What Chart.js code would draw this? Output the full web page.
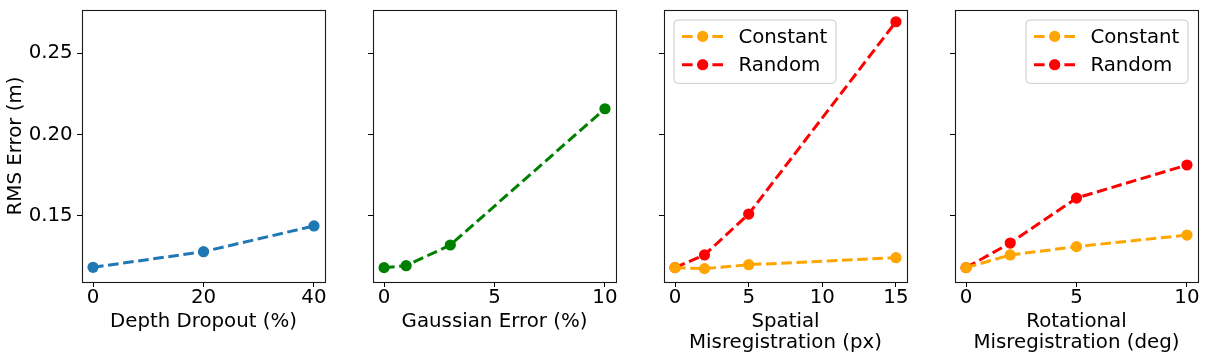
<!DOCTYPE html>
<html>
<head>
<meta charset="utf-8">
<script src="https://cdn.jsdelivr.net/npm/chart.js@4/dist/chart.umd.min.js"></script>
<style>
html, body { margin: 0; padding: 0; background: #ffffff; overflow: hidden; width: 1208px; height: 360px; }
canvas { position: absolute; top: 0; }
</style>
</head>
<body>
<canvas id="c1" width="355" height="360"></canvas>
<canvas id="c2" width="355" height="360"></canvas>
<canvas id="c3" width="355" height="360"></canvas>
<canvas id="c4" width="355" height="360"></canvas>
<script>
// ---- data ----
const yLabel = 'RMS Error (m)';
const yTicks = [0.15, 0.20, 0.25];
const yRange = [0.1095, 0.2764];

const depthX = [0, 20, 40];
const depthY = [0.1185, 0.1281, 0.1439];
const depthTicks = [0, 20, 40];
const depthRange = [-2, 42];
const depthTitle = 'Depth Dropout (%)';

const gaussX = [0, 1, 3, 10];
const gaussY = [0.1183, 0.1195, 0.1322, 0.2158];
const gaussTicks = [0, 5, 10];
const gaussRange = [-0.5, 10.5];
const gaussTitle = 'Gaussian Error (%)';

const spatialX = [0, 2, 5, 15];
const spatialConstant = [0.1183, 0.1177, 0.1201, 0.1244];
const spatialRandom = [0.1183, 0.1261, 0.1512, 0.2692];
const spatialTicks = [0, 5, 10, 15];
const spatialRange = [-0.75, 15.75];
const spatialTitle = ['Spatial', 'Misregistration (px)'];

const rotX = [0, 2, 5, 10];
const rotConstant = [0.1183, 0.1261, 0.1312, 0.1383];
const rotRandom = [0.1183, 0.1334, 0.1610, 0.1813];
const rotTicks = [0, 5, 10];
const rotRange = [-0.5, 10.5];
const rotTitle = ['Rotational', 'Misregistration (deg)'];

const seriesNames = ['Constant', 'Random'];

// ---- style ----
const FONT = 'DejaVu Sans';
const FS = 19.8;
Chart.defaults.font.family = FONT;
Chart.defaults.font.size = FS;
Chart.defaults.color = '#000000';

const COL = { blue: '#1f77b4', green: '#008000', orange: '#ffa500', red: '#ff0000' };

const plotLefts = [82, 373, 664, 955];
const plotW = 243;
const yAxisW = 82;
const plotTop = 10;

function pts(xs, ys) { return xs.map((x, i) => ({ x: x, y: ys[i] })); }

function ds(label, xs, ys, color) {
  return {
    label: label,
    data: pts(xs, ys),
    borderColor: color,
    backgroundColor: color,
    borderWidth: 3,
    borderDash: [10.6, 4.6],
    pointRadius: 5.6,
    pointHoverRadius: 5.6,
    pointBorderWidth: 0,
    pointBackgroundColor: color,
    tension: 0,
    fill: false
  };
}

const framePlugin = {
  id: 'frame',
  afterDatasetsDraw(chart) {
    const ctx = chart.ctx, a = chart.chartArea;
    ctx.save();
    ctx.strokeStyle = '#1a1a1a';
    ctx.lineWidth = 1.1;
    ctx.strokeRect(Math.round(a.left) + 0.5, Math.round(a.top) + 0.5,
                   Math.round(a.right - a.left), Math.round(a.bottom - a.top));
    ctx.restore();
  }
};

const legendPlugin = {
  id: 'mplLegend',
  afterDraw(chart, args, opts) {
    if (!opts || !opts.show) return;
    const ctx = chart.ctx, a = chart.chartArea;
    const w = 162, h = 63.4, r = 4;
    const x0 = opts.align === 'right' ? a.right - 10 - w : a.left + 10;
    const y0 = a.top + 10;
    ctx.save();
    ctx.beginPath();
    ctx.moveTo(x0 + r, y0);
    ctx.lineTo(x0 + w - r, y0);
    ctx.quadraticCurveTo(x0 + w, y0, x0 + w, y0 + r);
    ctx.lineTo(x0 + w, y0 + h - r);
    ctx.quadraticCurveTo(x0 + w, y0 + h, x0 + w - r, y0 + h);
    ctx.lineTo(x0 + r, y0 + h);
    ctx.quadraticCurveTo(x0, y0 + h, x0, y0 + h - r);
    ctx.lineTo(x0, y0 + r);
    ctx.quadraticCurveTo(x0, y0, x0 + r, y0);
    ctx.closePath();
    ctx.fillStyle = 'rgba(255,255,255,0.8)';
    ctx.fill();
    ctx.strokeStyle = '#cccccc';
    ctx.lineWidth = 1;
    ctx.stroke();
    chart.data.datasets.forEach((d, i) => {
      const cy = y0 + 16.4 + i * 28.3;
      ctx.setLineDash(d.borderDash);
      ctx.strokeStyle = d.borderColor;
      ctx.lineWidth = d.borderWidth;
      ctx.beginPath();
      ctx.moveTo(x0 + 8, cy);
      ctx.lineTo(x0 + 49, cy);
      ctx.stroke();
      ctx.setLineDash([]);
      ctx.fillStyle = d.borderColor;
      ctx.beginPath();
      ctx.arc(x0 + 28.7, cy, d.pointRadius, 0, Math.PI * 2);
      ctx.fill();
      ctx.fillStyle = '#000000';
      ctx.font = FS + 'px "' + FONT + '"';
      ctx.textAlign = 'left';
      ctx.textBaseline = 'middle';
      ctx.fillText(d.label, x0 + 64.4, cy + 1);
    });
    ctx.restore();
  }
};

function makeChart(idx, datasets, xTicks, xRange, xTitle, showY, legend) {
  const canvas = document.getElementById('c' + (idx + 1));
  canvas.style.left = (plotLefts[idx] - yAxisW) + 'px';
  const multi = Array.isArray(xTitle);
  return new Chart(canvas, {
    type: 'line',
    data: { datasets: datasets },
    plugins: [framePlugin, legendPlugin],
    options: {
      responsive: false,
      animation: false,
      events: [],
      layout: { padding: { left: 0, top: plotTop, right: 355 - yAxisW - plotW, bottom: 0 } },
      plugins: {
        legend: { display: false },
        tooltip: { enabled: false },
        mplLegend: legend
      },
      scales: {
        x: {
          type: 'linear',
          min: xRange[0],
          max: xRange[1],
          afterBuildTicks: s => { s.ticks = xTicks.map(v => ({ value: v })); },
          afterFit: s => { s.height = 78; s.paddingLeft = 0; s.paddingRight = 0; },
          grid: { drawOnChartArea: false, drawTicks: true, tickLength: 5, tickColor: '#000000', tickWidth: 1 },
          border: { display: false },
          ticks: {
            padding: 0,
            maxRotation: 0,
            autoSkip: false,
            font: { size: FS, lineHeight: 1.1 },
            callback: v => String(v)
          },
          title: {
            display: true,
            text: xTitle,
            font: { size: FS, lineHeight: 1.08 },
            padding: { top: 0, bottom: multi ? 6.3 : 27.6 }
          }
        },
        y: {
          type: 'linear',
          min: yRange[0],
          max: yRange[1],
          afterBuildTicks: s => { s.ticks = yTicks.map(v => ({ value: v })); },
          afterFit: s => { s.width = yAxisW; s.paddingTop = 0; s.paddingBottom = 0; },
          grid: { drawOnChartArea: false, drawTicks: true, tickLength: 5, tickColor: '#000000', tickWidth: 1 },
          border: { display: false },
          ticks: {
            padding: 4.3,
            autoSkip: false,
            font: { size: FS, lineHeight: 1.1 },
            callback: v => showY ? v.toFixed(2) : ''
          },
          title: {
            display: showY,
            text: yLabel,
            font: { size: FS, lineHeight: 1.1 },
            padding: { top: 5, bottom: 0 }
          }
        }
      }
    }
  });
}

makeChart(0, [ds('Depth', depthX, depthY, COL.blue)], depthTicks, depthRange, depthTitle, true, { show: false });
makeChart(1, [ds('Gaussian', gaussX, gaussY, COL.green)], gaussTicks, gaussRange, gaussTitle, false, { show: false });
makeChart(2, [ds(seriesNames[0], spatialX, spatialConstant, COL.orange), ds(seriesNames[1], spatialX, spatialRandom, COL.red)],
          spatialTicks, spatialRange, spatialTitle, false, { show: true, align: 'left' });
makeChart(3, [ds(seriesNames[0], rotX, rotConstant, COL.orange), ds(seriesNames[1], rotX, rotRandom, COL.red)],
          rotTicks, rotRange, rotTitle, false, { show: true, align: 'right' });
</script>
</body>
</html>
